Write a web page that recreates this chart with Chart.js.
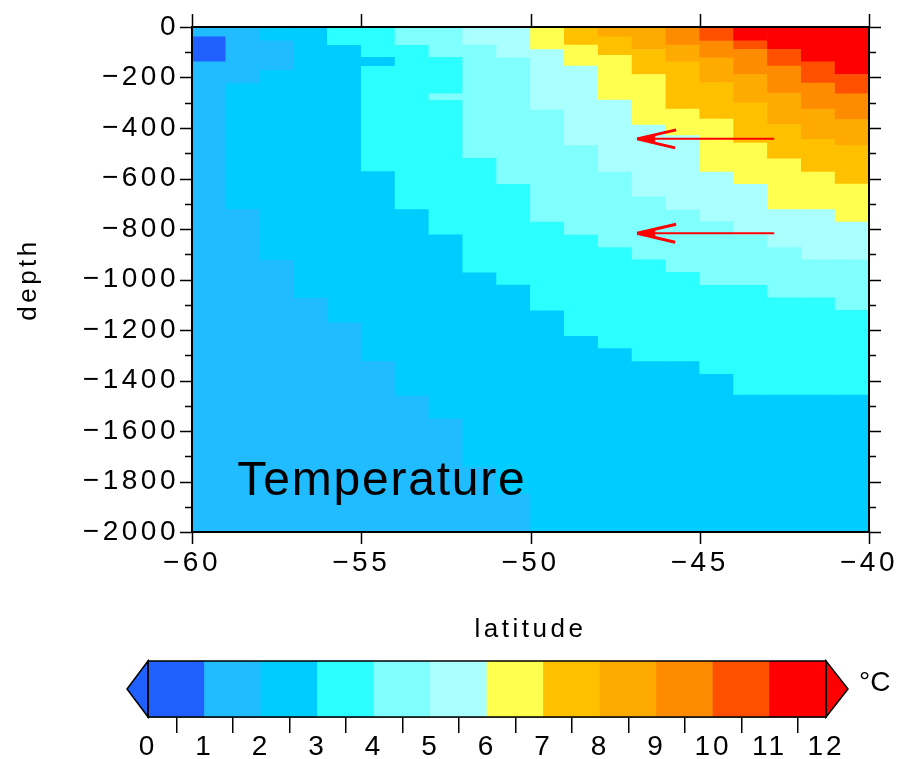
<!DOCTYPE html>
<html>
<head>
<meta charset="utf-8">
<script src="https://cdn.jsdelivr.net/npm/chart.js@4.4.0/dist/chart.umd.min.js"></script>
<style>
  body { margin: 0; background: #fff; }
  #wrap { position: relative; width: 900px; height: 759px; }
  canvas { position: absolute; left: 0; }
  #grafica { top: 0; width: 900px; height: 650px; }
  #barra { top: 645px; width: 900px; height: 114px; }
</style>
</head>
<body>
<div id="wrap">
  <canvas id="grafica" width="900" height="650"></canvas>
  <canvas id="barra" width="900" height="114"></canvas>
</div>
<script>
// column centres (deg), one column per degree of latitude
const latitudes = [-59.5, -58.5, -57.5, -56.5, -55.5, -54.5, -53.5, -52.5, -51.5, -50.5,
                   -49.5, -48.5, -47.5, -46.5, -45.5, -44.5, -43.5, -42.5, -41.5, -40.5];

// bottom of each layer in metres, from the surface down
const layerBottoms = [
  [39, 138, 2000],
  [224, 723, 2000],
  [55, 172, 924, 2000],
  [1075, 2000],
  [73, 1173, 2000],
  [120, 156, 573, 1324, 2000],
  [73, 723, 1462, 2000],
  [120, 265, 290, 823, 1553, 2000],
  [72, 520, 974, 1744, 2000],
  [122, 623, 1022, 1850, 2000],
  [89, 329, 773, 1124, 2000],
  [72, 155, 470, 824, 1225, 2000],
  [39, 112, 289, 575, 874, 1274, 2000],
  [89, 188, 388, 673, 922, 1325, 2000],
  [72, 138, 325, 430, 725, 972, 1325, 2000],
  [56, 122, 220, 365, 575, 771, 1023, 1376, 2000],
  [55, 88, 188, 300, 460, 623, 824, 1023, 1458, 2000],
  [88, 155, 262, 385, 522, 723, 874, 1073, 1458, 2000],
  [138, 222, 325, 445, 575, 723, 922, 1073, 1458, 2000],
  [188, 265, 366, 470, 622, 773, 922, 1122, 1458, 2000]
];

// temperature of each layer (°C)
const layerTemps = [
  [1.5, 0.6, 1.5],
  [1.6, 2.4, 1.6],
  [2.2, 1.8, 2.4, 1.7],
  [2.5, 1.8],
  [3.1, 2.6, 1.8],
  [3.1, 2.9, 3.3, 2.6, 1.8],
  [4.1, 3.4, 2.6, 1.9],
  [4.2, 3.9, 4.0, 3.4, 2.5, 1.9],
  [5.1, 4.4, 3.5, 2.6, 1.9],
  [5.2, 4.5, 3.5, 2.5, 1.9],
  [6.2, 5.5, 4.5, 3.5, 2.6],
  [7.2, 6.5, 5.5, 4.5, 3.5, 2.6],
  [8.1, 7.5, 6.5, 5.5, 4.5, 3.5, 2.6],
  [8.3, 7.5, 6.5, 5.5, 4.5, 3.5, 2.6],
  [9.2, 8.5, 7.5, 6.5, 5.5, 4.5, 3.5, 2.6],
  [10.2, 9.5, 8.5, 7.5, 6.5, 5.5, 4.5, 3.5, 2.6],
  [11.2, 10.5, 9.5, 8.5, 7.5, 6.5, 5.5, 4.5, 3.5, 2.6],
  [11.3, 10.5, 9.5, 8.5, 7.5, 6.5, 5.5, 4.5, 3.5, 2.6],
  [11.5, 10.5, 9.5, 8.5, 7.5, 6.5, 5.5, 4.5, 3.5, 2.6],
  [11.7, 10.6, 9.5, 8.5, 7.5, 6.5, 5.5, 4.5, 3.5, 2.6]
];

// contour levels and fill colours (one per interval)
const levels = [0, 1, 2, 3, 4, 5, 6, 7, 8, 9, 10, 11, 12];
const levelColors = ["#2060ff", "#20bcff", "#00ccff", "#2cffff", "#80ffff", "#aaffff",
                     "#ffff50", "#ffc000", "#ffaa00", "#ff8c00", "#ff5000", "#ff0000"];

// red arrows
const arrowDepths = [-443, -817];
const arrowTailLat = -42.8;
const arrowHeadLat = -46.85;

const FONT = "'Liberation Sans', Arial, sans-serif";
Chart.defaults.font.family = FONT;
Chart.defaults.color = "#000";

function colorFor(t) {
  let i = Math.floor(t - levels[0]);
  if (i < 0) i = 0;
  if (i > levelColors.length - 1) i = levelColors.length - 1;
  return levelColors[i];
}

function formatNum(v) {
  return v < 0 ? "\u2212" + Math.abs(v) : String(v);
}

// one floating bar per layer
const celdas = [];
latitudes.forEach((lat, i) => {
  let top = 0;
  layerBottoms[i].forEach((bottom, k) => {
    celdas.push({ x: lat, y: [-bottom, -top], t: layerTemps[i][k] });
    top = bottom;
  });
});

const marcoPlugin = {
  id: "marco",
  beforeDraw(chart) {
    chart.ctx.letterSpacing = "3.5px";
  },
  afterDatasetsDraw(chart) {
    const { ctx, chartArea: a, scales: { x, y } } = chart;
    ctx.save();

    // arrows
    ctx.strokeStyle = "#ff0000";
    ctx.fillStyle = "#ff0000";
    arrowDepths.forEach((d) => {
      const py = y.getPixelForValue(d);
      const x0 = x.getPixelForValue(arrowTailLat);
      const x1 = x.getPixelForValue(arrowHeadLat);
      ctx.lineWidth = 2;
      ctx.beginPath();
      ctx.moveTo(x0, py);
      ctx.lineTo(x1, py);
      ctx.stroke();
      ctx.lineWidth = 3;
      ctx.beginPath();
      ctx.moveTo(x1, py);
      ctx.lineTo(x1 + 39, py - 9);
      ctx.moveTo(x1, py);
      ctx.lineTo(x1 + 38, py + 9);
      ctx.stroke();
      ctx.beginPath();
      ctx.moveTo(x1, py);
      ctx.lineTo(x1 + 18, py - 5);
      ctx.lineTo(x1 + 18, py + 5);
      ctx.closePath();
      ctx.fill();
    });

    // label inside the plot
    ctx.letterSpacing = "1.8px";
    ctx.font = "48px " + FONT;
    ctx.fillStyle = "#000";
    ctx.textAlign = "left";
    ctx.textBaseline = "alphabetic";
    ctx.fillText("Temperature", x.getPixelForValue(-58.66), y.getPixelForValue(-1855));

    // frame
    ctx.strokeStyle = "#000";
    ctx.lineWidth = 2;
    ctx.strokeRect(a.left, a.top, a.right - a.left, a.bottom - a.top);

    // tick marks on all four sides
    ctx.lineWidth = 1.5;
    ctx.beginPath();
    for (let d = 0; d >= -2000; d -= 100) {
      const py = Math.round(y.getPixelForValue(d)) + 0.5;
      const len = d % 200 === 0 ? 12 : 7;
      ctx.moveTo(a.left - len, py);
      ctx.lineTo(a.left, py);
      ctx.moveTo(a.right, py);
      ctx.lineTo(a.right + len, py);
    }
    for (let lat = -60; lat <= -40; lat += 5) {
      const px = Math.round(x.getPixelForValue(lat)) + 0.5;
      ctx.moveTo(px, a.bottom);
      ctx.lineTo(px, a.bottom + 12);
      ctx.moveTo(px, a.top - 13);
      ctx.lineTo(px, a.top);
    }
    ctx.stroke();
    ctx.restore();
  }
};

new Chart(document.getElementById("grafica"), {
  type: "bar",
  data: {
    datasets: [{
      data: celdas,
      backgroundColor: (c) => colorFor(c.raw ? c.raw.t : 0),
      borderWidth: 0,
      barPercentage: 1,
      categoryPercentage: 1
    }]
  },
  options: {
    responsive: false,
    animation: false,
    layout: { padding: { left: 0, right: 31, top: 24, bottom: 0 } },
    plugins: { legend: { display: false }, tooltip: { enabled: false } },
    scales: {
      x: {
        type: "linear",
        min: -60,
        max: -40,
        offset: false,
        grid: { display: false, drawTicks: false },
        border: { display: false },
        ticks: {
          stepSize: 5,
          maxRotation: 0,
          padding: 0,
          // tall line box pushes the labels below the frame
          font: { size: 28, lineHeight: 2.2 },
          callback: formatNum
        },
        title: {
          display: true,
          text: "latitude",
          font: { size: 26, lineHeight: 1.2 },
          padding: { top: 0, bottom: 5 }
        },
        afterFit: (s) => { s.height = 118; }
      },
      y: {
        type: "linear",
        min: -2000,
        max: 0,
        grid: { display: false, drawTicks: false },
        border: { display: false },
        ticks: {
          stepSize: 200,
          padding: 13,
          font: { size: 28, lineHeight: 1 },
          callback: formatNum
        },
        title: {
          display: true,
          text: "depth",
          font: { size: 26, lineHeight: 1.2 },
          padding: { top: 13, bottom: 0 }
        },
        afterFit: (s) => { s.width = 192; }
      }
    }
  },
  plugins: [marcoPlugin]
});

// colour bar
const barraPlugin = {
  id: "barraExtremos",
  beforeDraw(chart) {
    chart.ctx.letterSpacing = "3px";
  },
  afterDraw(chart) {
    const { ctx, chartArea: a } = chart;
    const mid = (a.top + a.bottom) / 2;
    ctx.save();
    ctx.strokeStyle = "#000";
    ctx.lineWidth = 1.5;
    ctx.lineJoin = "miter";
    // below-range triangle
    ctx.fillStyle = levelColors[0];
    ctx.beginPath();
    ctx.moveTo(a.left, a.top);
    ctx.lineTo(a.left - 21, mid);
    ctx.lineTo(a.left, a.bottom);
    ctx.closePath();
    ctx.fill();
    ctx.stroke();
    // above-range triangle
    ctx.fillStyle = levelColors[levelColors.length - 1];
    ctx.beginPath();
    ctx.moveTo(a.right, a.top);
    ctx.lineTo(a.right + 22, mid);
    ctx.lineTo(a.right, a.bottom);
    ctx.closePath();
    ctx.fill();
    ctx.stroke();
    ctx.strokeRect(a.left, a.top, a.right - a.left, a.bottom - a.top);
    // units
    ctx.letterSpacing = "0px";
    ctx.fillStyle = "#000";
    ctx.font = "28px " + FONT;
    ctx.textAlign = "left";
    ctx.textBaseline = "middle";
    ctx.fillText("\u00b0C", a.right + 33, mid - 6);
    ctx.restore();
  }
};

new Chart(document.getElementById("barra"), {
  type: "bar",
  data: {
    datasets: [{
      data: levelColors.map((c, i) => ({ x: (levels[i] + levels[i + 1]) / 2, y: 1 })),
      backgroundColor: levelColors,
      borderWidth: 0,
      barPercentage: 1,
      categoryPercentage: 1
    }]
  },
  options: {
    responsive: false,
    animation: false,
    layout: { padding: { left: 148, right: 74, top: 16, bottom: 0 } },
    plugins: { legend: { display: false }, tooltip: { enabled: false } },
    scales: {
      x: {
        type: "linear",
        min: levels[0],
        max: levels[levels.length - 1],
        offset: false,
        z: 1,
        grid: {
          display: true,
          drawOnChartArea: true,
          drawTicks: true,
          tickLength: 16,
          color: "#000",
          lineWidth: 1.5
        },
        border: { display: true, color: "#000", width: 1.5 },
        ticks: {
          stepSize: 1,
          maxRotation: 0,
          autoSkip: false,
          padding: 0,
          font: { size: 28, lineHeight: 1 }
        },
        afterFit: (s) => { s.height = 42; }
      },
      y: { display: false, min: 0, max: 1 }
    }
  },
  plugins: [barraPlugin]
});
</script>
</body>
</html>
